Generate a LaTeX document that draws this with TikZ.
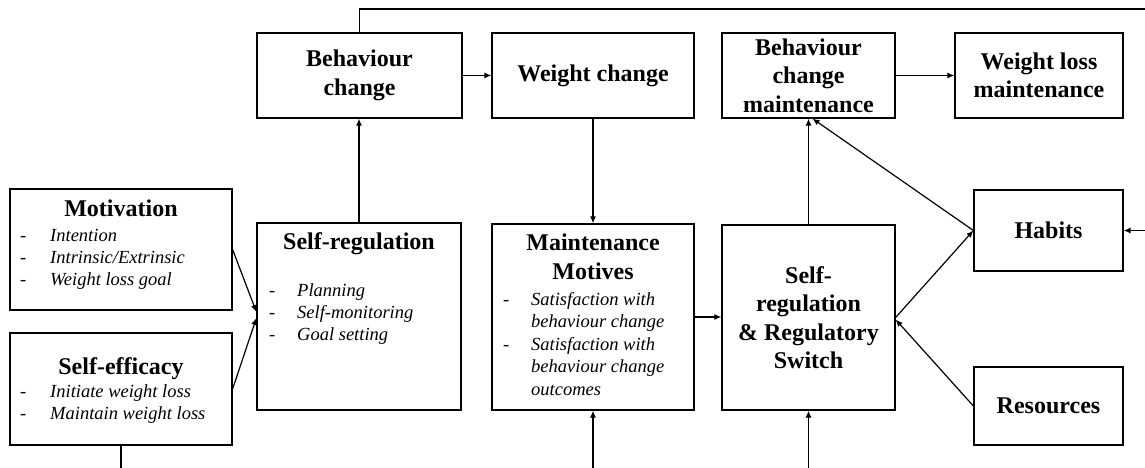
\documentclass[tikz,border=0pt]{standalone}
\usepackage{fontspec}
\setmainfont{Liberation Serif}
\usetikzlibrary{positioning,arrows.meta}

\begin{document}
\begin{tikzpicture}[x=1pt, y=-1pt,
	blockbox/.style={draw, line width=1.2pt, inner sep=0pt, align=center, font=\fontsize{24}{28.5}\selectfont\bfseries},
	headtext/.style={anchor=base, inner sep=0pt, font=\fontsize{24}{28.5}\selectfont\bfseries},
	itemtext/.style={anchor=base west, inner sep=0pt, font=\fontsize{18.5}{22.5}\selectfont\itshape},
	dashtext/.style={anchor=base west, inner sep=0pt, font=\fontsize{18.5}{22.5}\selectfont},
	flowline/.style={line width=1.2pt},
	flowarrow/.style={line width=1.2pt, -{Latex[length=7pt,width=6pt]}}]
	\useasboundingbox (0, 0) rectangle (1145, 468);
	% motivation
	\node[blockbox, minimum width=222, minimum height=121] (motiv) at (121, 249.5) {};
	\node[headtext] (motivtitle) at (121, 216) {Motivation};
	\foreach \t [count=\i] in {Intention, Intrinsic/Extrinsic, Weight loss goal}{
		\node[dashtext] (motivdash\i) at (20, {241 + 22 * (\i - 1)}) {-};
		\node[itemtext] (motivitem\i) at (50, {241 + 22 * (\i - 1)}) {\t};
	}
	% self-efficacy
	\node[blockbox, minimum width=222, minimum height=112] (selfeff) at (121, 389) {};
	\node[headtext] (selfefftitle) at (121, 374) {Self-efficacy};
	\foreach \t [count=\i] in {Initiate weight loss, Maintain weight loss}{
		\node[dashtext] (selfeffdash\i) at (20, {397 + 22 * (\i - 1)}) {-};
		\node[itemtext] (selfeffitem\i) at (50, {397 + 22 * (\i - 1)}) {\t};
	}
	% self-regulation
	\node[blockbox, minimum width=204, minimum height=187] (selfreg) at (359, 316.5) {};
	\node[headtext] (selfregtitle) at (359, 249) {Self-regulation};
	\foreach \t [count=\i] in {Planning, Self-monitoring, Goal setting}{
		\node[dashtext] (selfregdash\i) at (269, {296 + 22 * (\i - 1)}) {-};
		\node[itemtext] (selfregitem\i) at (297, {296 + 22 * (\i - 1)}) {\t};
	}
	% top row
	\node[blockbox, minimum width=205, minimum height=85] (behav) at (359.5, 75.5) {Behaviour\\change};
	\node[blockbox, minimum width=202, minimum height=85] (wchange) at (593, 75.5) {Weight change};
	\node[blockbox, minimum width=173, minimum height=85] (bcm) at (808.5, 75.5) {Behaviour\\change\\maintenance};
	\node[blockbox, minimum width=168, minimum height=85] (wlm) at (1039, 75.5) {Weight loss\\maintenance};
	% maintenance motives
	\node[blockbox, minimum width=202, minimum height=186] (maintmot) at (593, 317) {};
	\node[headtext] (maintmottitle1) at (593, 250) {Maintenance};
	\node[headtext] (maintmottitle2) at (593, 279) {Motives};
	\foreach \t [count=\i] in {Satisfaction with, behaviour change, Satisfaction with, behaviour change, outcomes}{
		\node[itemtext] (maintmotitem\i) at (531, {305 + 22.5 * (\i - 1)}) {\t};
	}
	\node[dashtext] (maintmotdash1) at (503, 305) {-};
	\node[dashtext] (maintmotdash2) at (503, 350) {-};
	% switch, habits, resources
	\node[blockbox, minimum width=173, minimum height=185] (switch) at (808.5, 317.5) {Self-\\regulation\\\& Regulatory\\Switch};
	\node[blockbox, minimum width=149, minimum height=81] (habits) at (1048.5, 230.5) {Habits};
	\node[blockbox, minimum width=149, minimum height=78] (resources) at (1048.5, 406) {Resources};
	% loose ends
	\coordinate (topend) at (1145, 9);
	\coordinate (habin) at (1145, 230.5);
	\coordinate (mmin) at (593, 468);
	\coordinate (swin) at (808.5, 468);
	\coordinate (seout) at (121, 468);
	% connectors
	\draw[flowarrow] (motiv.east) -- ([yshift=4.5]selfreg.west);
	\draw[flowarrow] (selfeff.east) -- ([yshift=-1.5]selfreg.west);
	\draw[flowline] (selfeff) -- (seout);
	\draw[flowarrow] (selfreg.north) -- (selfreg.north |- behav.south);
	\draw[flowline] (behav.north) |- (topend);
	\draw[flowarrow] (behav) -- (wchange);
	\draw[flowarrow] (wchange) -- (maintmot);
	\draw[flowarrow] (mmin) -- (maintmot);
	\draw[flowarrow] (maintmot.east) -- (maintmot.east -| switch.west);
	\draw[flowarrow] (swin) -- (switch);
	\draw[flowarrow] (switch) -- (bcm);
	\draw[flowarrow] (habits.west) -- ([xshift=4]bcm.south);
	\draw[flowarrow] (switch.east) -- (habits.west);
	\draw[flowarrow] (resources.west) -- ([yshift=-2]switch.east);
	\draw[flowarrow] (habin) -- (habits);
	\draw[flowarrow] (bcm) -- (wlm);
\end{tikzpicture}
\end{document}
